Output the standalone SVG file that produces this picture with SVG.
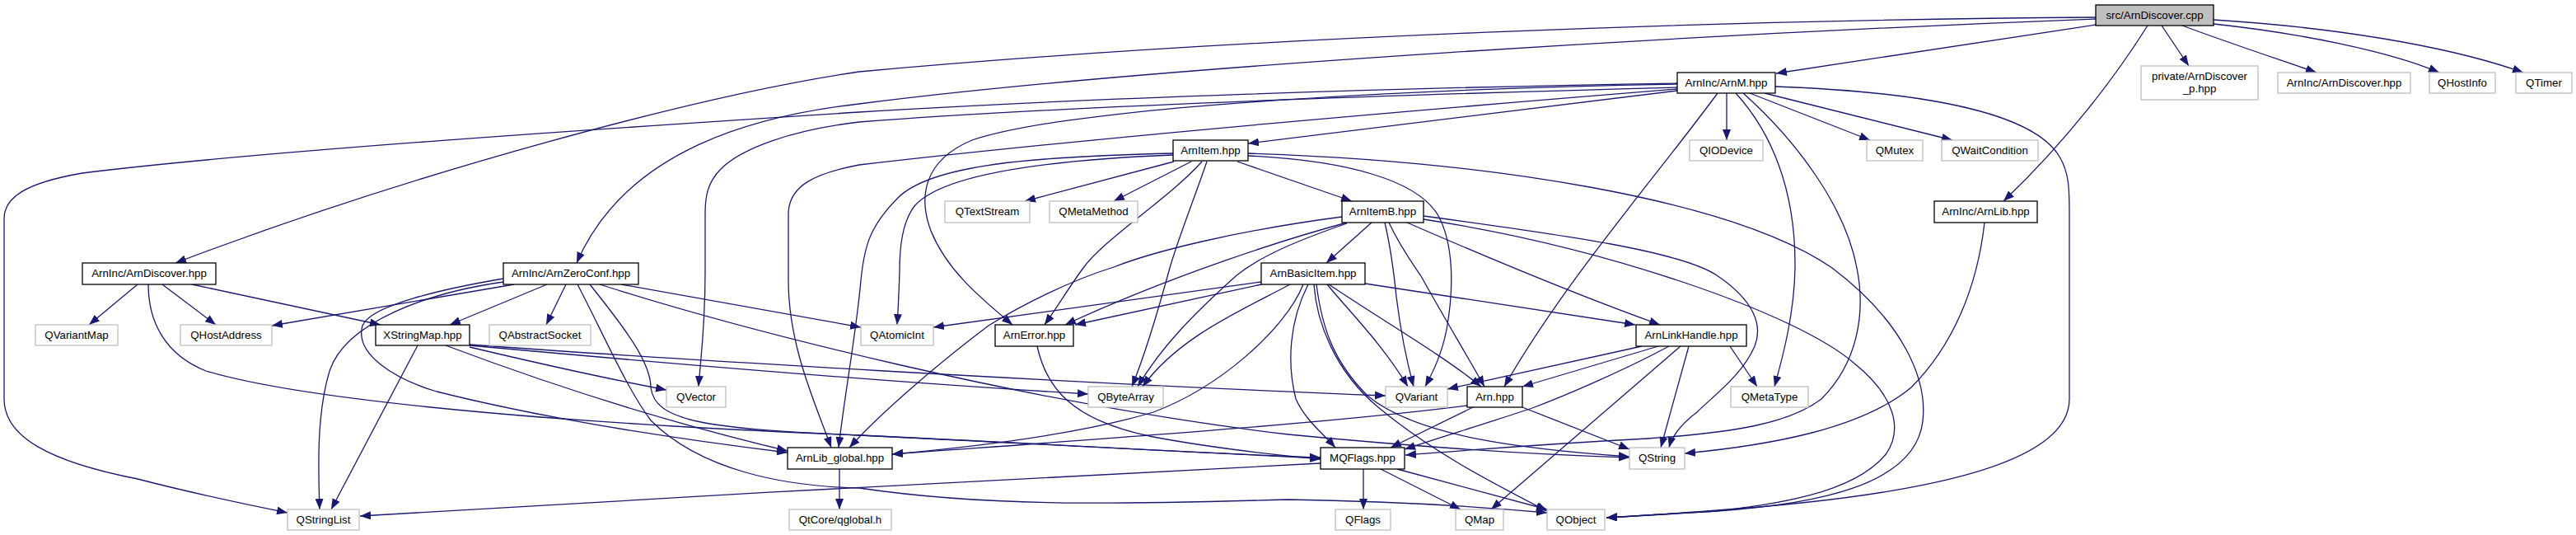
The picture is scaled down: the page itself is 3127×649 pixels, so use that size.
<svg xmlns="http://www.w3.org/2000/svg" width="3127" height="649" viewBox="0 0 3127 649">
<defs>
<style>
.n rect{fill:#fff;stroke:#000;stroke-width:1.3}
.g rect{fill:#fff;stroke:#bfbfbf;stroke-width:1.3}
.s rect{fill:#bfbfbf;stroke:#000;stroke-width:1.3}
text{font-family:"Liberation Sans",Arial,Helvetica,sans-serif;font-size:13.3px;text-anchor:middle;fill:#000}
#edges path{fill:none;stroke:#191970;stroke-width:1.3;marker-end:url(#ah)}
</style>
<marker id="ah" viewBox="0 0 13 10" refX="13" refY="5" markerWidth="13" markerHeight="10" markerUnits="userSpaceOnUse" orient="auto">
<path d="M0,0 L13,5 L0,10 z" fill="#191970"/>
</marker>
</defs>
<rect width="3127" height="649" fill="#fff"/>
<g id="edges">
<path d="M2544,30 C2400,52 2250,74 2156,89"/>
<path d="M2624,31 L2657,80"/>
<path d="M2649,31 C2700,50 2760,70 2812,88"/>
<path d="M2687,29 C2790,40 2900,62 2961,88"/>
<path d="M2687,24 C2830,33 2970,55 3063,88"/>
<path d="M2607,31 C2570,90 2510,170 2432,244"/>
<path d="M2544,21 C2100,24 1500,45 1043,87 C850,115 500,210 213,319"/>
<path d="M2544,23 C2100,40 1400,80 1043,126 C920,140 760,180 700,319"/>
<path d="M2036,110 L1515,174"/>
<path d="M2036,101 C1700,106 1300,120 1043,136 C700,158 300,185 100,210 C30,222 5,240 5,265 L5,484 C5,530 60,560 167,581 C240,600 300,612 349,622"/>
<path d="M2036,106 C1700,115 1300,128 1043,148 C960,158 900,180 875,205 C858,222 856,240 856,260 L856,330 C856,400 850,440 848,469"/>
<path d="M2036,108 C1700,135 1300,170 1043,200 C990,210 957,225 957,260 L957,340 C957,420 990,490 1009,543"/>
<path d="M2036,102 C1700,108 1300,130 1180,170 C1120,195 1115,240 1130,280 C1150,330 1195,365 1229,394"/>
<path d="M2085,113 C2010,215 1900,340 1826,469"/>
<path d="M2096,113 L2096,170"/>
<path d="M2124,113 L2270,170"/>
<path d="M2142,113 L2370,170"/>
<path d="M2107,113 C2150,160 2180,230 2179,325 C2178,380 2165,430 2154,469"/>
<path d="M2116,113 C2180,170 2240,250 2254,325 C2265,380 2255,440 2211,484 C2170,515 2100,525 2000,532 C1850,540 1760,548 1706,552"/>
<path d="M2155,105 C2350,112 2470,140 2500,190 C2512,210 2512,230 2512,260 L2512,484 C2512,560 2350,600 2084,619 C2030,623 1990,626 1950,628"/>
<path d="M2409,270 C2400,350 2370,420 2320,470 C2260,520 2150,540 2045,550"/>
<path d="M1425,196 L1244,244"/>
<path d="M1446,196 L1352,244"/>
<path d="M1502,196 L1641,244"/>
<path d="M1459,196 C1420,240 1340,290 1315,325 C1300,345 1285,370 1268,394"/>
<path d="M1465,196 C1450,240 1430,290 1420,325 C1405,380 1390,430 1374,469"/>
<path d="M1424,186 C1250,190 1130,200 1090,240 C1055,275 1049,300 1045,340 C1040,400 1025,480 1018,543"/>
<path d="M1424,188 C1250,195 1140,215 1110,250 C1095,270 1092,300 1092,330 C1091,360 1090,380 1089,394"/>
<path d="M1515,189 C1640,195 1720,220 1745,260 C1765,295 1765,350 1756,400 C1750,430 1740,450 1730,469"/>
<path d="M1515,186 C1800,195 2100,240 2224,325 C2310,390 2340,460 2334,511 C2325,590 2200,612 2084,620 C2030,623 1990,626 1950,628"/>
<path d="M1665,270 L1610,319"/>
<path d="M1635,270 C1560,290 1420,335 1293,394"/>
<path d="M1635,271 C1580,290 1530,310 1500,335 C1450,380 1410,420 1381,469"/>
<path d="M1629,263 C1500,280 1400,305 1352,324 C1300,340 1240,370 1200,395 C1140,440 1070,500 1031,543"/>
<path d="M1681,270 C1688,300 1692,330 1695,360 C1700,400 1708,440 1716,469"/>
<path d="M1686,270 C1700,300 1715,320 1725,335 C1750,380 1780,430 1802,469"/>
<path d="M1708,270 C1800,310 1920,360 2015,394"/>
<path d="M1728,262 C1900,285 2040,305 2084,334 C2130,365 2140,395 2130,420 C2115,455 2080,480 2060,500 C2040,515 2030,528 2026,543"/>
<path d="M1728,266 C1950,300 2180,380 2250,440 C2300,480 2310,520 2290,550 C2250,600 2150,612 2084,620 C2030,623 1990,626 1950,628"/>
<path d="M1531,342 L1133,397"/>
<path d="M1531,345 L1305,394"/>
<path d="M1566,345 C1500,380 1430,410 1387,469"/>
<path d="M1582,345 C1560,400 1480,470 1400,500 C1300,530 1150,545 1083,551"/>
<path d="M1657,344 L1985,394"/>
<path d="M1611,345 C1640,380 1680,420 1709,469"/>
<path d="M1613,345 C1680,390 1750,430 1798,469"/>
<path d="M1588,345 C1565,390 1562,440 1573,484 C1585,510 1605,525 1621,543"/>
<path d="M1595,345 C1598,390 1620,450 1673,494 C1740,550 1820,590 1878,620"/>
<path d="M1598,345 C1605,400 1620,440 1660,480 C1720,530 1850,545 1978,554"/>
<path d="M1993,420 L1757,472"/>
<path d="M2013,420 L1848,469"/>
<path d="M2026,420 C1970,450 1900,480 1860,495 C1800,515 1750,530 1705,545"/>
<path d="M2040,420 L1810,618"/>
<path d="M2050,420 L2016,543"/>
<path d="M2100,420 L2133,469"/>
<path d="M1788,494 L1688,543"/>
<path d="M1781,492 C1600,515 1300,535 1083,551"/>
<path d="M1848,494 L1978,545"/>
<path d="M1655,569 L1655,618"/>
<path d="M1676,569 L1773,618"/>
<path d="M1696,569 L1878,618"/>
<path d="M1603,562 C1300,575 800,605 437,626"/>
<path d="M1019,569 L1019,618"/>
<path d="M507,419 L402,618"/>
<path d="M570,421 C650,440 730,458 809,473"/>
<path d="M541,419 C650,460 800,510 956,547"/>
<path d="M570,419 C800,440 1100,465 1321,478"/>
<path d="M570,418 C800,435 1300,465 1682,480"/>
<path d="M664,345 L546,394"/>
<path d="M687,345 L663,394"/>
<path d="M754,345 L1045,397"/>
<path d="M728,345 C900,400 1250,490 1564,527 C1750,545 1880,552 1978,555"/>
<path d="M716,345 C760,400 790,440 790,470 C795,510 850,520 1043,528 C1300,540 1500,552 1603,555"/>
<path d="M611,338 C540,350 450,370 440,395 C430,430 480,460 530,475 C650,505 800,530 956,549"/>
<path d="M611,342 C520,355 420,390 400,450 C385,500 386,560 388,618"/>
<path d="M624,345 L330,395"/>
<path d="M701,345 C730,400 760,470 790,510 C850,570 950,590 1043,592 C1200,615 1350,612 1564,606 C1700,608 1800,615 1878,622"/>
<path d="M167,345 L108,394"/>
<path d="M197,345 L262,394"/>
<path d="M233,345 L462,394"/>
<path d="M180,345 C180,390 200,430 250,450 C350,480 600,510 1043,528 C1300,540 1500,552 1603,556"/>
<path d="M1259,420 C1270,470 1300,510 1400,530 C1480,545 1550,552 1603,557"/>
</g>
<g id="n_src" class="s"><rect x="2544" y="6" width="143" height="25"/><text x="2615.5" y="22.5">src/ArnDiscover.cpp</text></g>
<g id="n_arnm" class="n"><rect x="2036" y="88" width="119" height="25"/><text x="2095.5" y="104.5">ArnInc/ArnM.hpp</text></g>
<g id="n_discover_p" class="g"><rect x="2599" y="80" width="142" height="41"/><text x="2670" y="97">private/ArnDiscover</text><text x="2670" y="111.5">_p.hpp</text></g>
<g id="n_discover_r" class="g"><rect x="2765" y="88" width="161" height="25"/><text x="2845.5" y="104.5">ArnInc/ArnDiscover.hpp</text></g>
<g id="n_qhostinfo" class="g"><rect x="2949" y="88" width="80" height="25"/><text x="2989" y="104.5">QHostInfo</text></g>
<g id="n_qtimer" class="g"><rect x="3054" y="88" width="68" height="25"/><text x="3088" y="104.5">QTimer</text></g>
<g id="n_arnlib" class="n"><rect x="2348" y="244" width="125" height="26"/><text x="2410.5" y="261">ArnInc/ArnLib.hpp</text></g>
<g id="n_discover" class="n"><rect x="100" y="319" width="162" height="26"/><text x="181" y="336">ArnInc/ArnDiscover.hpp</text></g>
<g id="n_zeroconf" class="n"><rect x="611" y="319" width="164" height="26"/><text x="693" y="336">ArnInc/ArnZeroConf.hpp</text></g>
<g id="n_arnitem" class="n"><rect x="1424" y="170" width="91" height="25"/><text x="1469.5" y="186.5">ArnItem.hpp</text></g>
<g id="n_qiodevice" class="g"><rect x="2051" y="170" width="89" height="25"/><text x="2095.5" y="186.5">QIODevice</text></g>
<g id="n_qmutex" class="g"><rect x="2266" y="170" width="68" height="25"/><text x="2300" y="186.5">QMutex</text></g>
<g id="n_qwait" class="g"><rect x="2357" y="170" width="117" height="25"/><text x="2415.5" y="186.5">QWaitCondition</text></g>
<g id="n_qtextstream" class="g"><rect x="1147" y="244" width="103" height="26"/><text x="1198.5" y="261">QTextStream</text></g>
<g id="n_qmetamethod" class="g"><rect x="1274" y="244" width="107" height="26"/><text x="1327.5" y="261">QMetaMethod</text></g>
<g id="n_arnitemb" class="n"><rect x="1629" y="244" width="99" height="26"/><text x="1678.5" y="261">ArnItemB.hpp</text></g>
<g id="n_basicitem" class="n"><rect x="1531" y="319" width="126" height="26"/><text x="1594" y="336">ArnBasicItem.hpp</text></g>
<g id="n_qvariantmap" class="g"><rect x="43" y="394" width="100" height="25"/><text x="93" y="410.5">QVariantMap</text></g>
<g id="n_qhostaddress" class="g"><rect x="219" y="394" width="111" height="25"/><text x="274.5" y="410.5">QHostAddress</text></g>
<g id="n_xstringmap" class="n"><rect x="456" y="394" width="114" height="25"/><text x="513" y="410.5">XStringMap.hpp</text></g>
<g id="n_qabstractsocket" class="g"><rect x="594" y="394" width="123" height="25"/><text x="655.5" y="410.5">QAbstractSocket</text></g>
<g id="n_qatomicint" class="g"><rect x="1045" y="394" width="88" height="25"/><text x="1089" y="410.5">QAtomicInt</text></g>
<g id="n_arnerror" class="n"><rect x="1208" y="394" width="95" height="26"/><text x="1255.5" y="410.5">ArnError.hpp</text></g>
<g id="n_linkhandle" class="n"><rect x="1986" y="394" width="134" height="26"/><text x="2053" y="410.5">ArnLinkHandle.hpp</text></g>
<g id="n_qvector" class="g"><rect x="809" y="469" width="72" height="25"/><text x="845" y="485.5">QVector</text></g>
<g id="n_qbytearray" class="g"><rect x="1321" y="469" width="91" height="25"/><text x="1366.5" y="485.5">QByteArray</text></g>
<g id="n_qvariant" class="g"><rect x="1682" y="469" width="75" height="25"/><text x="1719.5" y="485.5">QVariant</text></g>
<g id="n_arn" class="n"><rect x="1781" y="469" width="67" height="25"/><text x="1814.5" y="485.5">Arn.hpp</text></g>
<g id="n_qmetatype" class="g"><rect x="2101" y="469" width="94" height="25"/><text x="2148" y="485.5">QMetaType</text></g>
<g id="n_libglobal" class="n"><rect x="956" y="543" width="127" height="26"/><text x="1019.5" y="560">ArnLib_global.hpp</text></g>
<g id="n_mqflags" class="n"><rect x="1603" y="543" width="102" height="26"/><text x="1654" y="560">MQFlags.hpp</text></g>
<g id="n_qstring" class="g"><rect x="1978" y="543" width="67" height="26"/><text x="2011.5" y="560">QString</text></g>
<g id="n_qstringlist" class="g"><rect x="349" y="618" width="87" height="25"/><text x="392.5" y="634.5">QStringList</text></g>
<g id="n_qglobal" class="g"><rect x="958" y="618" width="124" height="25"/><text x="1020" y="634.5">QtCore/qglobal.h</text></g>
<g id="n_qflags" class="g"><rect x="1621" y="618" width="67" height="25"/><text x="1654.5" y="634.5">QFlags</text></g>
<g id="n_qmap" class="g"><rect x="1767" y="618" width="58" height="25"/><text x="1796" y="634.5">QMap</text></g>
<g id="n_qobject" class="g"><rect x="1878" y="618" width="70" height="25"/><text x="1913" y="634.5">QObject</text></g>
</svg>
